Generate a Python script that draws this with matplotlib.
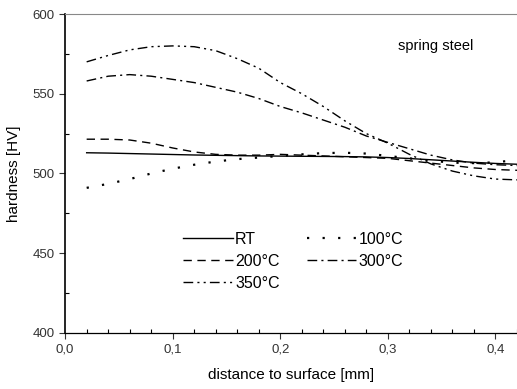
import numpy as np
import matplotlib
matplotlib.use("Agg")
import matplotlib.pyplot as plt
from matplotlib.ticker import MultipleLocator, FuncFormatter

plt.rcParams['font.family'] = ['Liberation Sans', 'DejaVu Sans']

# distance to surface [mm]
distance = [0.02, 0.04, 0.06, 0.08, 0.10, 0.12, 0.14, 0.16, 0.18, 0.20, 0.22,
            0.24, 0.26, 0.28, 0.30, 0.32, 0.34, 0.36, 0.38, 0.40, 0.42]

# hardness [HV] for each treatment temperature
hv_rt = [513, 512.8, 512.5, 512.2, 511.9, 511.6, 511.4, 511.2, 511, 510.9, 510.8,
         510.7, 510.6, 510.4, 510, 509.4, 508.6, 507.8, 507, 506.3, 505.8]
hv_100 = [491, 493.5, 496.5, 500, 503, 505.5, 507.5, 509, 510, 511, 512,
          512.8, 513, 512.5, 511, 509.5, 508, 506.8, 506.5, 507, 508.5]
hv_200 = [521.5, 521.5, 521, 519, 516, 513.5, 512, 511.5, 511.5, 512, 511.5,
          511, 510.5, 510, 509.5, 508, 506.5, 505, 503.5, 502.5, 502]
hv_300 = [558, 561, 562, 561, 559, 557, 554, 551, 547, 542, 538,
          533.5, 529, 523.5, 519.5, 515.5, 511.5, 508.5, 506.5, 505.5, 505]
hv_350 = [570, 574, 577.5, 579.5, 580, 579.5, 577, 572, 566, 557, 550,
          542, 533, 525, 519, 512, 506, 501.5, 498.5, 496.5, 496]

labels = ['RT', '100°C', '200°C', '300°C', '350°C']
series = [hv_rt, hv_100, hv_200, hv_300, hv_350]
styles = ['-', (0, (1, 6)), (0, (6, 4)), (0, (7, 3, 1.5, 3)), (0, (7, 3, 1.5, 3, 1.5, 3))]
widths = [1.0, 1.6, 1.0, 1.0, 1.0]

fig = plt.figure(figsize=(5.17, 3.89), dpi=100)
ax = fig.add_axes([0.126, 0.144, 0.874, 0.82])

lines = []
for y, lab, ls, lw in zip(series, labels, styles, widths):
    ln, = ax.plot(distance, y, color='black', linestyle=ls, linewidth=lw, label=lab)
    lines.append(ln)

ax.set_xlim(0, 0.42)
ax.set_ylim(400, 600)
ax.xaxis.set_major_locator(MultipleLocator(0.1))
ax.xaxis.set_minor_locator(MultipleLocator(0.02))
ax.yaxis.set_major_locator(MultipleLocator(50))
ax.yaxis.set_minor_locator(MultipleLocator(25))
ax.xaxis.set_major_formatter(FuncFormatter(lambda v, p: f"{v:.1f}".replace('.', ',')))
ax.tick_params(which='major', direction='out', length=4, width=0.8, labelsize=9.5, colors='#333333')
ax.tick_params(which='minor', direction='in', length=3, width=0.8)

ax.spines['right'].set_visible(False)
ax.spines['top'].set_color('#888888')
ax.spines['left'].set_linewidth(1.2)
ax.spines['bottom'].set_linewidth(0.9)

ax.set_xlabel('distance to surface [mm]', fontsize=11, labelpad=9)
ax.set_ylabel('hardness [HV]', fontsize=11, labelpad=8)
ax.text(0.82, 0.9, 'spring steel', transform=ax.transAxes, ha='center', va='center', fontsize=10.5)

# legend filled row by row: RT, 100 / 200, 300 / 350
order = [0, 2, 4, 1, 3]
ax.legend([lines[i] for i in order], [labels[i] for i in order],
          loc='center', bbox_to_anchor=(0.505, 0.225), ncol=2, frameon=False, fontsize=11.5,
          handlelength=3.1, handletextpad=0.15, columnspacing=1.7, labelspacing=0.45)

fig.savefig('out.png', dpi=100)
